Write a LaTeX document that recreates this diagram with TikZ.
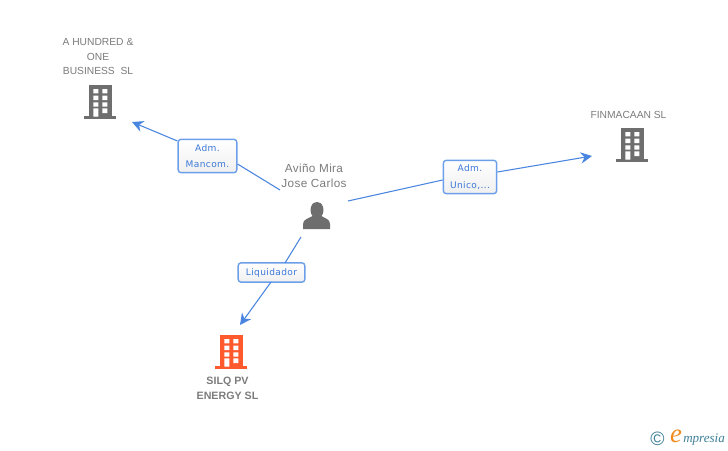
\documentclass[tikz,border=0pt]{standalone}
\usepackage{fontspec}
\setmainfont{Liberation Sans}
\newfontfamily\lblfont[LetterSpace=4]{DejaVu Sans}
\newfontfamily\persfont[LetterSpace=3]{Liberation Sans}
\newfontfamily\logofont{Liberation Serif}
\usetikzlibrary{arrows.meta,shadings}
\definecolor{linkblue}{HTML}{4A86E0}
\definecolor{boxblue}{HTML}{6C9FEA}
\definecolor{txtblue}{HTML}{3C78D8}
\definecolor{greytxt}{HTML}{7C7C7C}
\definecolor{icongrey}{HTML}{6E6E6E}
\definecolor{iconred}{HTML}{FF5A2E}
\definecolor{logoteal}{HTML}{3F8098}
\definecolor{logoorange}{HTML}{F08A1D}
\newcommand{\lowered}[1]{\raisebox{-0.9pt}{#1}}
\tikzset{
  x=0.75pt,y=-0.75pt,
  rolebox/.style={draw=boxblue,line width=1.05pt,rounded corners=2.2pt,top color=white,bottom color=white!94!black,
    text=txtblue,font=\lblfont\fontsize{6.8pt}{12.2pt}\selectfont,align=center,inner sep=0pt},
  link/.style={draw=linkblue,line width=0.8pt},
  arrowlink/.style={link,-{Stealth[length=8.5pt,width=8.5pt,inset=2.8pt]}},
  nametxt/.style={text=greytxt,font=\fontsize{7.7pt}{11.2pt}\selectfont,align=center,inner sep=0pt},
  persontxt/.style={text=greytxt,font=\persfont\fontsize{8.8pt}{11.2pt}\selectfont,align=center,inner sep=0pt},
  boldtxt/.style={text=greytxt,font=\bfseries\fontsize{8pt}{11.2pt}\selectfont,align=center,inner sep=0pt},
  pics/office/.style={code={
    \fill[#1] (-11,-17) rectangle (12,15);
    \fill[#1] (-16,14) rectangle (16,17);
    \fill[white] (-6.7,-13) rectangle (-1.7,-8.7) (2.3,-13) rectangle (7.3,-8.7)
      (-6.7,-6.3) rectangle (-1.7,-2) (2.3,-6.3) rectangle (7.3,-2)
      (-6.7,0.3) rectangle (-1.7,4.7) (2.3,0.3) rectangle (7.3,4.7)
      (-6.7,6.3) rectangle (-1.7,14.7) (2.3,6.3) rectangle (7.3,11);
  }}
}
\begin{document}
\begin{tikzpicture}
\useasboundingbox (0,0) rectangle (728,450);
\fill[white] (0,0) rectangle (728,450);

% buildings and person
\pic at (100,102) {office=icongrey};
\pic at (632,145) {office=icongrey};
\pic at (231,352) {office=iconred};
\fill[icongrey] (303,229) -- (303,224) .. controls (303,219) and (309,218.5) .. (312.5,216)
  .. controls (310,213) and (310.5,209) .. (311,207) .. controls (312,203) and (315,202) .. (317,202)
  .. controls (319,202) and (322,203) .. (323,207) .. controls (323.5,209) and (324,213) .. (321.5,216)
  .. controls (325,218.5) and (330,219) .. (330,224) -- (330,229) -- cycle;

% name texts
\node[nametxt] (hundred) at (98,56.5) {A HUNDRED \&\\ONE\\BUSINESS\ \ SL};
\node[nametxt] (finmacaan) at (628.5,114.5) {FINMACAAN SL};
\node[persontxt] (avino) at (314,176) {Aviño Mira\\Jose Carlos};
\node[boldtxt] (silq) at (227.5,388.5) {SILQ PV\\ENERGY SL};

% role boxes
\node[rolebox,minimum width=44pt,minimum height=25pt] (mancom) at (207.5,156) {\lowered{Adm.}\\\lowered{Mancom.}};
\node[rolebox,minimum width=40pt,minimum height=25pt] (unico) at (470,177) {\lowered{Adm.}\\\lowered{Unico,...}};
\node[rolebox,minimum width=50pt,minimum height=14.5pt] (liq) at (271.5,272.5) {\lowered{Liquidador}};

% connector ends
\coordinate (s1) at (280,190);
\coordinate (e1) at (132,122);
\coordinate (s2) at (348,201);
\coordinate (e2) at (592,156);
\coordinate (s3) at (301,237);
\coordinate (e3) at (240,325);

% connectors
\draw[link] (s1) -- (mancom.east |- 0,164);
\draw[arrowlink] (mancom.west |- 0,141) -- (e1);
\draw[link] (s2) -- (unico.west |- 0,180);
\draw[arrowlink] (unico.east |- 0,172) -- (e2);
\draw[link] (s3) -- (285,263);
\draw[arrowlink] (271,282) -- (e3);

% logo
\node[text=logoteal,font=\fontsize{14.5pt}{14.5pt}\selectfont,inner sep=0pt] (copy) at (657.5,438.5) {©};
\node[text=logoorange,font=\logofont\itshape\fontsize{20pt}{20pt}\selectfont,inner sep=0pt] (logoe) at (676,436) {e};
\node[text=logoteal,font=\logofont\itshape\fontsize{9.8pt}{10pt}\selectfont,inner sep=0pt,anchor=west] (logot) at (683,439.5) {mpresia};
\end{tikzpicture}
\end{document}
